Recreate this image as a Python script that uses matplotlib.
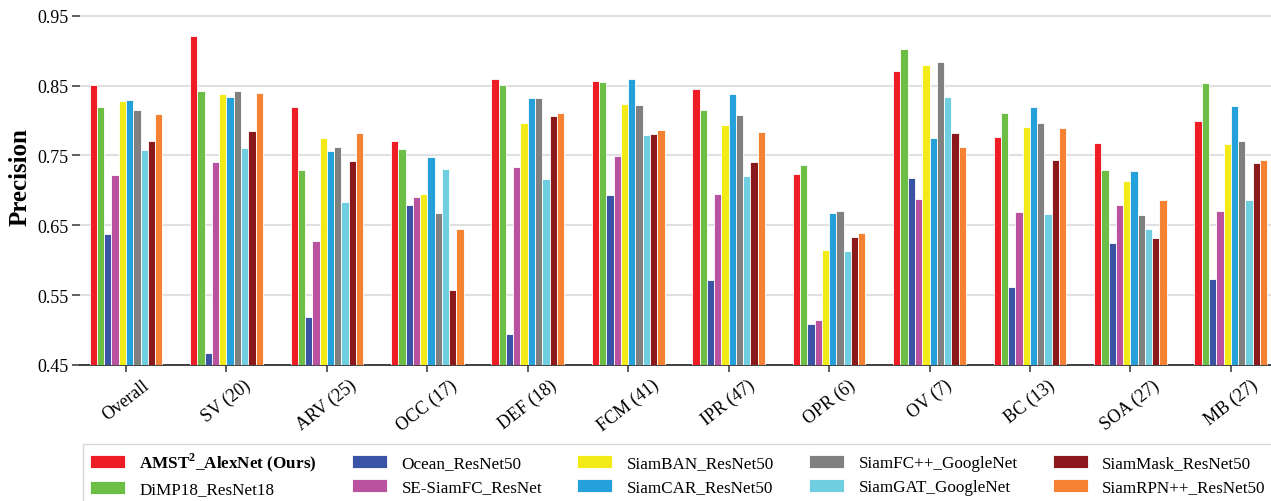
import matplotlib
matplotlib.use("Agg")
import matplotlib.pyplot as plt
import numpy as np

plt.rcParams['font.family'] = ['Liberation Serif', 'DejaVu Serif']
plt.rcParams['mathtext.fontset'] = 'custom'
plt.rcParams['mathtext.rm'] = 'Liberation Serif'
plt.rcParams['mathtext.bf'] = 'Liberation Serif:bold'

categories = ['Overall', 'SV (20)', 'ARV (25)', 'OCC (17)', 'DEF (18)', 'FCM (41)',
              'IPR (47)', 'OPR (6)', 'OV (7)', 'BC (13)', 'SOA (27)', 'MB (27)']

trackers = [r'AMST$^\mathbf{2}$_AlexNet (Ours)', 'DiMP18_ResNet18', 'Ocean_ResNet50',
            'SE-SiamFC_ResNet', 'SiamBAN_ResNet50', 'SiamCAR_ResNet50',
            'SiamFC++_GoogleNet', 'SiamGAT_GoogleNet', 'SiamMask_ResNet50',
            'SiamRPN++_ResNet50']

colors = ['#EE1C25', '#6CBE45', '#3A53A4', '#B9529F', '#F3EB17', '#24A0DA',
          '#808080', '#6FCEDF', '#8B181B', '#F58232']

amst      = [0.851, 0.921, 0.820, 0.770, 0.859, 0.857, 0.845, 0.723, 0.871, 0.776, 0.768, 0.799]
dimp18    = [0.819, 0.843, 0.729, 0.759, 0.851, 0.855, 0.815, 0.737, 0.902, 0.811, 0.729, 0.854]
ocean     = [0.637, 0.467, 0.519, 0.679, 0.494, 0.693, 0.572, 0.508, 0.718, 0.562, 0.625, 0.573]
se_siamfc = [0.722, 0.740, 0.627, 0.690, 0.734, 0.749, 0.695, 0.514, 0.688, 0.669, 0.679, 0.670]
siamban   = [0.828, 0.838, 0.775, 0.695, 0.796, 0.823, 0.793, 0.614, 0.879, 0.791, 0.713, 0.767]
siamcar   = [0.830, 0.834, 0.757, 0.748, 0.832, 0.859, 0.838, 0.667, 0.775, 0.819, 0.728, 0.821]
siamfcpp  = [0.815, 0.843, 0.762, 0.667, 0.832, 0.822, 0.808, 0.670, 0.884, 0.796, 0.665, 0.771]
siamgat   = [0.758, 0.760, 0.683, 0.730, 0.717, 0.780, 0.720, 0.613, 0.834, 0.666, 0.645, 0.686]
siammask  = [0.771, 0.785, 0.742, 0.558, 0.807, 0.781, 0.740, 0.633, 0.782, 0.744, 0.632, 0.739]
siamrpnpp = [0.809, 0.840, 0.782, 0.645, 0.811, 0.787, 0.783, 0.639, 0.762, 0.790, 0.686, 0.744]

series = [amst, dimp18, ocean, se_siamfc, siamban, siamcar, siamfcpp, siamgat, siammask, siamrpnpp]

yticks = [0.45, 0.55, 0.65, 0.75, 0.85, 0.95]

fig = plt.figure(figsize=(12.71, 5.02), dpi=100)
ax = fig.add_axes([80 / 1271, 136 / 502, 1 - 80 / 1271, 366 / 502])

x = np.arange(len(categories))
n = len(series)
step = 0.0724
for i, (vals, c, lab) in enumerate(zip(series, colors, trackers)):
    offs = (i - (n - 1) / 2) * step
    ax.bar(x + offs, vals, width=step, color=c, edgecolor='white', linewidth=0.6,
           label=lab, zorder=3)

ax.set_xlim(-0.458, 11.4)
ax.set_ylim(0.45, 0.974)
ax.set_yticks(yticks)
ax.set_yticklabels([f'{v:.2f}' for v in yticks], fontsize=13)
ax.set_xticks(x)
ax.set_xticklabels(categories, rotation=38, fontsize=13)
ax.grid(axis='y', color='#e0e0e0', linewidth=1.5, zorder=0)
ax.set_axisbelow(True)
for s in ['top', 'right', 'left']:
    ax.spines[s].set_visible(False)
ax.spines['bottom'].set_color('#333333')
ax.spines['bottom'].set_linewidth(1.3)
ax.tick_params(axis='y', length=6, width=1.2, color='#444444', pad=2)
ax.tick_params(axis='x', length=5, width=1.2, color='#444444', pad=3)
ax.set_ylabel('Precision', fontsize=18, fontweight='bold')
ax.yaxis.set_label_coords(-0.0405, 0.516)

handles, labels = ax.get_legend_handles_labels()
leg = fig.legend(handles, labels, loc='upper left',
                 bbox_to_anchor=(83 / 1271, 1 - 445 / 502), ncol=5, fontsize=12.3,
                 frameon=True, fancybox=False, edgecolor='#cccccc',
                 handlelength=2.05, handleheight=0.75, handletextpad=0.85,
                 columnspacing=2.05, borderpad=0.4, labelspacing=0.45,
                 borderaxespad=0)
leg.get_frame().set_linewidth(1.0)
leg.get_texts()[0].set_fontweight('bold')

fig.savefig('out.png', dpi=100)
